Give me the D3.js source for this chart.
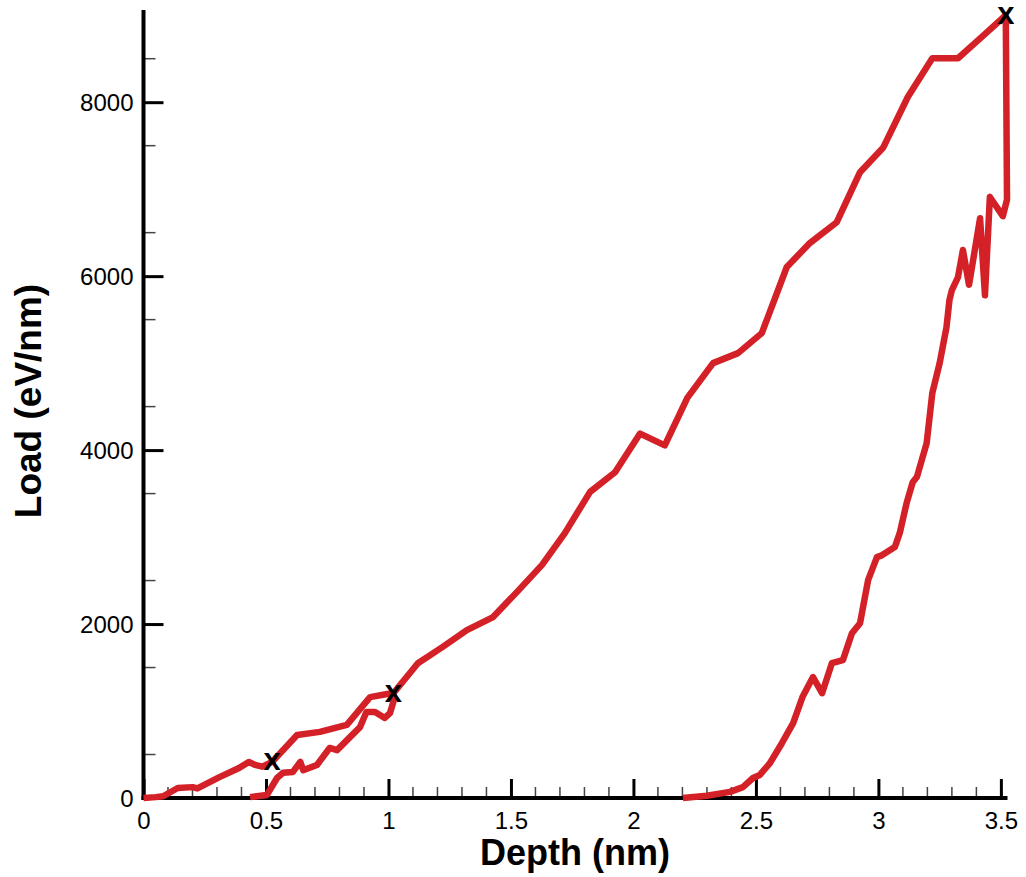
<!DOCTYPE html>
<html>
<head>
<meta charset="utf-8">
<script src="https://cdn.jsdelivr.net/npm/d3@7"></script>
<style>
  html, body { margin: 0; padding: 0; background: #fff; }
  svg { display: block; font-family: "Liberation Sans", Arial, sans-serif; }
</style>
</head>
<body>
<div id="chart"></div>
<script>
// loading curve (upper branch)
const loadDepth = [0, 0.05, 0.08, 0.14, 0.2, 0.22, 0.31, 0.39, 0.43, 0.455, 0.485, 0.525, 0.627, 0.72, 0.83, 0.925, 0.995, 1.02, 1.12, 1.22, 1.32, 1.427, 1.525, 1.627, 1.72, 1.823, 1.925, 2.027, 2.128, 2.22, 2.325, 2.427, 2.524, 2.626, 2.72, 2.83, 2.925, 3.02, 3.12, 3.22, 3.325, 3.42, 3.52];
const loadForce = [0, 10, 20, 115, 125, 110, 240, 345, 415, 380, 360, 415, 725, 760, 840, 1160, 1195, 1205, 1550, 1735, 1930, 2080, 2370, 2680, 3045, 3520, 3745, 4190, 4055, 4600, 5000, 5115, 5345, 6105, 6380, 6620, 7195, 7480, 8060, 8505, 8505, 8745, 9000];

// reloading branch after the first unload
const reloadDepth = [0.435, 0.504, 0.545, 0.57, 0.61, 0.64, 0.652, 0.708, 0.76, 0.79, 0.843, 0.884, 0.91, 0.945, 0.985, 1.006, 1.02, 1.02];
const reloadForce = [10, 35, 230, 290, 300, 415, 320, 380, 575, 550, 700, 815, 990, 990, 920, 975, 1105, 1205];

// final unloading
const unloadDepth = [3.52, 3.525, 3.508, 3.455, 3.435, 3.415, 3.37, 3.345, 3.325, 3.30, 3.29, 3.278, 3.25, 3.22, 3.197, 3.157, 3.14, 3.115, 3.087, 3.067, 3.014, 2.994, 2.958, 2.925, 2.892, 2.855, 2.81, 2.77, 2.733, 2.69, 2.652, 2.606, 2.557, 2.516, 2.488, 2.447, 2.394, 2.30, 2.202];
const unloadForce = [9000, 6880, 6690, 6910, 5780, 6665, 5900, 6300, 5990, 5840, 5725, 5415, 5000, 4655, 4080, 3690, 3630, 3390, 3045, 2885, 2790, 2770, 2505, 2010, 1895, 1585, 1550, 1205, 1390, 1160, 860, 630, 400, 265, 230, 125, 70, 25, 0];

// turning points marked with x
const markDepth = [0.525, 1.02, 3.52];
const markForce = [415, 1205, 9000];

const xTicks = [0, 0.5, 1, 1.5, 2, 2.5, 3, 3.5];
const xTickLabels = ['0', '0.5', '1', '1.5', '2', '2.5', '3', '3.5'];
const yTicks = [0, 2000, 4000, 6000, 8000];

const W = 1026, H = 877;
const svg = d3.select('#chart').append('svg').attr('width', W).attr('height', H);

const x = d3.scaleLinear().domain([0, 3.527]).range([143.5, 1007.5]);
const y = d3.scaleLinear().domain([0, 9060]).range([798, 10]);

const red = '#d42027';

// minor ticks
const xMinor = d3.range(0, 3.53, 0.1).filter(v => Math.abs(v * 2 - Math.round(v * 2)) > 1e-6);
const yMinor = d3.range(500, 9060, 1000);

svg.append('g').selectAll('line').data(xMinor).enter().append('line')
  .attr('x1', d => x(d)).attr('x2', d => x(d))
  .attr('y1', y(0)).attr('y2', y(0) - 11)
  .attr('stroke', '#444').attr('stroke-width', 1.5);

svg.append('g').selectAll('line').data(yMinor).enter().append('line')
  .attr('x1', x(0)).attr('x2', x(0) + 12)
  .attr('y1', d => y(d)).attr('y2', d => y(d))
  .attr('stroke', '#444').attr('stroke-width', 1.5);

// major ticks + labels via d3 axes
const xAxis = svg.append('g').attr('transform', `translate(0,${y(0)})`)
  .call(d3.axisBottom(x).tickValues(xTicks).tickFormat((d, i) => xTickLabels[i]).tickSizeInner(-19).tickSizeOuter(0).tickPadding(12));
xAxis.select('.domain').remove();
xAxis.selectAll('.tick line').attr('stroke', '#000').attr('stroke-width', 3);
xAxis.selectAll('.tick text').attr('font-size', 24).attr('fill', '#000').attr('font-family', '"Liberation Sans", Arial, sans-serif')
  .attr('y', 31).attr('dy', 0);

const yAxis = svg.append('g').attr('transform', `translate(${x(0)},0)`)
  .call(d3.axisLeft(y).tickValues(yTicks).tickFormat(d3.format('d')).tickSizeInner(-20).tickSizeOuter(0).tickPadding(10));
yAxis.select('.domain').remove();
yAxis.selectAll('.tick line').attr('stroke', '#000').attr('stroke-width', 3);
yAxis.selectAll('.tick text').attr('font-size', 24).attr('fill', '#000').attr('font-family', '"Liberation Sans", Arial, sans-serif')
  .attr('x', -10).attr('dy', '0.36em');

// axis lines
svg.append('line').attr('x1', x(0)).attr('x2', x(0)).attr('y1', y(9060)).attr('y2', y(0) + 2)
  .attr('stroke', '#000').attr('stroke-width', 4);
svg.append('line').attr('x1', x(0) - 2).attr('x2', x(3.527)).attr('y1', y(0)).attr('y2', y(0))
  .attr('stroke', '#000').attr('stroke-width', 4);

// curves
const line = d3.line().x(d => x(d[0])).y(d => y(d[1]));
const series = [
  d3.zip(loadDepth, loadForce),
  d3.zip(reloadDepth, reloadForce),
  d3.zip(unloadDepth, unloadForce)
];
svg.append('g').selectAll('path').data(series).enter().append('path')
  .attr('d', line)
  .attr('fill', 'none').attr('stroke', red).attr('stroke-width', 6.5)
  .attr('stroke-linejoin', 'round').attr('stroke-linecap', 'butt');

// markers
svg.append('g').selectAll('text').data(d3.zip(markDepth, markForce)).enter().append('text')
  .attr('x', d => x(d[0])).attr('y', d => y(d[1]))
  .attr('dy', '0.27em').attr('text-anchor', 'middle')
  .attr('font-size', 31).attr('font-weight', 'bold').attr('fill', '#000')
  .text('x');

// titles
svg.append('text').attr('x', 575).attr('y', 865).attr('text-anchor', 'middle')
  .attr('font-size', 36).attr('font-weight', 'bold').text('Depth (nm)');
svg.append('text').attr('transform', 'translate(41,401) rotate(-90)').attr('text-anchor', 'middle')
  .attr('font-size', 37).attr('font-weight', 'bold').text('Load (eV/nm)');
</script>
</body>
</html>
